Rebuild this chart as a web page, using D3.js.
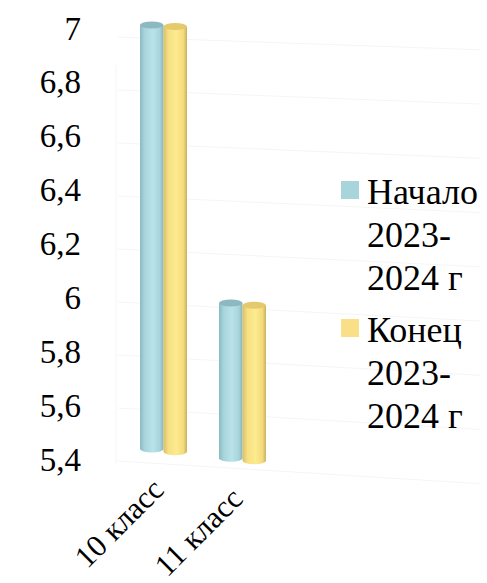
<!DOCTYPE html>
<html>
<head>
<meta charset="utf-8">
<script src="https://cdn.jsdelivr.net/npm/d3@7"></script>
<style>
  body { margin: 0; background: #fff; }
  svg text { font-family: "Liberation Serif", "Times New Roman", Tinos, serif; }
</style>
</head>
<body>
<script>
const categories = ["10 класс", "11 класс"];
const seriesNames = ["Начало 2023-2024 г", "Конец 2023-2024 г"];
const nachalo = [7.0, 5.98];
const konec = [7.0, 5.98];
const tickValues = [5.4, 5.6, 5.8, 6.0, 6.2, 6.4, 6.6, 6.8, 7.0];
const legendLines = [["Начало", "2023-", "2024 г"], ["Конец", "2023-", "2024 г"]];

const width = 487, height = 583;

let svg = d3.select("body")
  .append("svg")
  .attr("width", width)
  .attr("height", height)
  .style("display", "block");

let defs = svg.append("defs");
let palettes = [
  { id: "gBlue", stops: ["#8cbac2", "#a8d5dc", "#b9e3e9", "#a7d3da", "#88b3bb"], top: "#8cb9c1", legend: "#a8d4db" },
  { id: "gYellow", stops: ["#d6bf66", "#f6df82", "#fdeb8f", "#f3da7d", "#c9b15c"], top: "#e4ca6c", legend: "#f9df87" }
];
palettes.forEach(p => {
  let lg = defs.append("linearGradient").attr("id", p.id).attr("x1", 0).attr("x2", 1).attr("y1", 0).attr("y2", 0);
  [0, 0.2, 0.55, 0.85, 1].forEach((o, i) => lg.append("stop").attr("offset", o).attr("stop-color", p.stops[i]));
});

// scales
let x = d3.scalePoint().domain(categories).range([163.5, 242.5]);
let xs = d3.scaleBand().domain(seriesNames).range([-23.5, 23.5]);
let y = d3.scaleLinear().domain([5.4, 7]).range([449, 25]);
let yLab = d3.scaleLinear().domain([5.4, 7]).range([459, 28]);

// perspective drop of the floor to the right
let shift = (px, v) => (px - 151) * (0.115 - 0.05 * (v - 5.4) / 1.6);

// very faint back wall grid
let grid = svg.append("g").attr("stroke", "#f5f5f5").attr("stroke-width", 1).attr("fill", "none");
tickValues.forEach(v => {
  grid.append("line")
    .attr("x1", 118).attr("y1", y(v) + 12)
    .attr("x2", 480).attr("y2", y(v) + 12 + shift(480, v) * 0.6);
});
grid.append("line").attr("x1", 116).attr("y1", y(7) + 40).attr("x2", 116).attr("y2", y(5.4) + 15);

// y tick labels
svg.append("g")
  .selectAll("text")
  .data(tickValues)
  .enter().append("text")
    .attr("x", 81)
    .attr("y", d => yLab(d))
    .attr("dy", "0.35em")
    .attr("text-anchor", "end")
    .attr("font-size", 33)
    .attr("fill", "#000")
    .text(d => d3.format(".1~f")(d).replace(".", ","));

// bars as cylinders
let bars = [];
categories.forEach((c, ci) => {
  [nachalo, konec].forEach((arr, si) => {
    bars.push({ cat: c, s: si, name: seriesNames[si], value: arr[ci] });
  });
});

let rx = xs.bandwidth() / 2, ry = 3.5;
let g = svg.append("g");
bars.forEach(b => {
  let cx = x(b.cat) + xs(b.name) + rx;
  let yTop = y(b.value) + shift(cx, b.value);
  let yBot = y(5.4) + shift(cx, 5.4);
  let p = palettes[b.s];
  let bg = g.append("g");
  bg.append("path")
    .attr("d", "M" + (cx - rx) + "," + yTop +
      "L" + (cx - rx) + "," + yBot +
      "A" + rx + "," + ry + " 0 0 0 " + (cx + rx) + "," + yBot +
      "L" + (cx + rx) + "," + yTop + "Z")
    .attr("fill", "url(#" + p.id + ")");
  bg.append("ellipse")
    .attr("cx", cx).attr("cy", yTop)
    .attr("rx", rx).attr("ry", ry)
    .attr("fill", p.top);
});

// category labels
svg.append("g")
  .selectAll("text")
  .data(categories)
  .enter().append("text")
    .attr("transform", d => "translate(" + (x(d) + 2) + "," + (490 + shift(x(d), 5.4)) + ") rotate(-45)")
    .attr("text-anchor", "end")
    .attr("font-size", 31)
    .attr("fill", "#000")
    .text(d => d);

// legend
let legend = svg.append("g");
let legendTop = [181, 319];
seriesNames.forEach((n, i) => {
  legend.append("rect")
    .attr("x", 341).attr("y", legendTop[i])
    .attr("width", 18).attr("height", 18)
    .attr("fill", palettes[i].legend);
  let t = legend.append("text")
    .attr("x", 367)
    .attr("y", legendTop[i] + 23)
    .attr("font-size", 36)
    .attr("fill", "#000");
  legendLines[i].forEach((line, li) => {
    t.append("tspan")
      .attr("x", 367)
      .attr("dy", li === 0 ? 0 : 43)
      .text(line);
  });
});
</script>
</body>
</html>
